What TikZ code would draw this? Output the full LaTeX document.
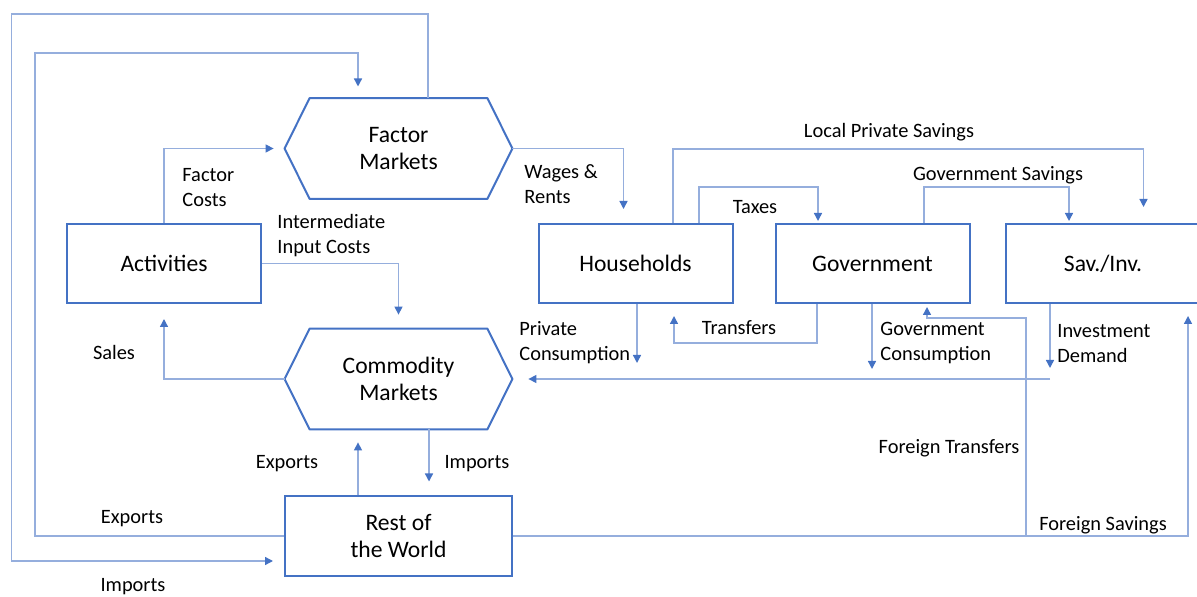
\documentclass[tikz,border=0pt]{standalone}
\usepackage{fontspec}
\setmainfont{Carlito}
\usepackage{xcolor}
\usetikzlibrary{arrows.meta}
\definecolor{customcolor1}{HTML}{4472C4}
\definecolor{customcolor2}{HTML}{95AEDD}

\begin{document}
\begin{tikzpicture}[x = 0.5pt, y = -0.5pt,
        box/.style = {draw = customcolor1, line width = 1pt, rectangle, minimum width = 97pt, minimum height = 39.5pt, inner sep = 0pt, align = center, font = \fontsize{11.8}{13.5}\selectfont},
        hexnode/.style = {rectangle, minimum width = 113.5pt, minimum height = 50pt, inner sep = 0pt, align = center, font = \fontsize{11.8}{13.5}\selectfont},
        hexline/.style = {draw = customcolor1, line width = 1pt, line join = round},
        flow/.style = {draw = customcolor2, line width = 0.7pt, -{Triangle[width = 4pt, length = 4pt, color = customcolor1]}},
        line/.style = {draw = customcolor2, line width = 0.7pt},
        lbl/.style = {inner sep = 0pt, align = left, font = \fontsize{10.2}{12.5}\selectfont}]
        \useasboundingbox (0, 0) rectangle (1197, 597);

        % Nodes
        \node [hexnode] (fac) at (398.5, 148.5) {Factor\\Markets};
        \node [hexnode] (com) at (398.5, 379) {Commodity\\Markets};
        \node [box] (act) at (164, 263.5) {Activities};
        \node [box] (hh) at (635.5, 263.5) {Households};
        \node [box] (gov) at (872.5, 263.5) {Government};
        \node [box] (sav) at (1103, 263.5) {Sav./Inv.};
        \node [box, minimum width = 113.5pt] (row) at (398.5, 536) {Rest of\\the World};

        % Hexagon outlines
        \draw [hexline] (fac.west) -- ([xshift = 12.5pt]fac.north west) -- ([xshift = -12.5pt]fac.north east) -- (fac.east) -- ([xshift = -12.5pt]fac.south east) -- ([xshift = 12.5pt]fac.south west) -- cycle;
        \draw [hexline] (com.west) -- ([xshift = 12.5pt]com.north west) -- ([xshift = -12.5pt]com.north east) -- (com.east) -- ([xshift = -12.5pt]com.south east) -- ([xshift = 12.5pt]com.south west) -- cycle;

        % Draw the links
        \draw [flow, shorten > = 5.5pt] (428,0 |- fac.north) |- (11.5, 14) |- (0,561 -| row.west);
        \draw [flow, shorten > = 5.8pt] (row.west) -| (35, 53) -| (358,0 |- fac.north);
        \draw [flow, shorten > = 5.5pt] (act.north) |- (fac.west);
        \draw [flow, shorten > = 7pt] (act.east) -| (com.north);
        \draw [flow, shorten > = 7.5pt] (com.west) -| (act.south);
        \draw [flow, shorten > = 6.5pt] (358,0 |- row.north) -- (358,0 |- com.south);
        \draw [flow, shorten > = 7pt] (429,0 |- com.south) -- (429,0 |- row.north);
        \draw [flow, shorten > = 7pt] (fac.east) -| (623.5,0 |- hh.north);
        \draw [flow, shorten > = 8pt] (673,0 |- hh.north) |- (1143.5, 149) -- (1143.5,0 |- sav.north);
        \draw [flow, shorten > = 1pt] (699,0 |- hh.north) |- (818, 187) -- (818,0 |- gov.north);
        \draw [flow, shorten > = 1pt] (924,0 |- gov.north) |- (1069, 187) -- (1069,0 |- sav.north);
        \draw [flow, shorten > = 6pt] (817,0 |- gov.south) |- (674, 343) -- (674,0 |- hh.south);
        \draw [flow, shorten > = 8pt] (637,0 |- hh.south) -- (637,0 |- com.east);
        \draw [flow, shorten > = 5pt] (872,0 |- gov.south) -- (872,0 |- com.east);
        \draw [flow, shorten > = 5.5pt] (1050,0 |- sav.south) -- (1050,0 |- com.east);
        \coordinate (cons) at (1050,0 |- com.east);
        \draw [flow, shorten > = 8pt] (cons) -- (com.east);
        \draw [flow, shorten > = 1.5pt] (1026,0 |- row.east) |- (927, 318) -- (927,0 |- gov.south);
        \draw [flow, shorten > = 6pt] (row.east) -| (1188,0 |- sav.south);

        % Link labels
        \node [lbl, anchor = west] (l-fc) at (182, 188) {Factor\\Costs};
        \node [lbl, anchor = west] (l-ic) at (277, 235.5) {Intermediate\\Input Costs};
        \node [lbl, anchor = west] (l-wr) at (524, 184.5) {Wages \&\\Rents};
        \node [lbl] (l-lps) at (889, 132) {Local Private Savings};
        \node [lbl] (l-tax) at (755, 207) {Taxes};
        \node [lbl] (l-gs) at (998, 175) {Government Savings};
        \node [lbl] (l-tr) at (739, 328) {Transfers};
        \node [lbl, anchor = west] (l-pc) at (519, 343) {Private\\Consumption};
        \node [lbl, anchor = west] (l-gc) at (880, 343.5) {Government\\Consumption};
        \node [lbl, anchor = west] (l-id) at (1057, 344) {Investment\\Demand};
        \node [lbl] (l-sal) at (114, 352) {Sales};
        \node [lbl] (l-ex1) at (287, 464) {Exports};
        \node [lbl] (l-im1) at (477, 464) {Imports};
        \node [lbl] (l-ex2) at (132, 519) {Exports};
        \node [lbl] (l-im2) at (133, 587) {Imports};
        \node [lbl] (l-ft) at (949, 448) {Foreign Transfers};
        \node [lbl] (l-fs) at (1103, 525) {Foreign Savings};

    \end{tikzpicture}
\end{document}
